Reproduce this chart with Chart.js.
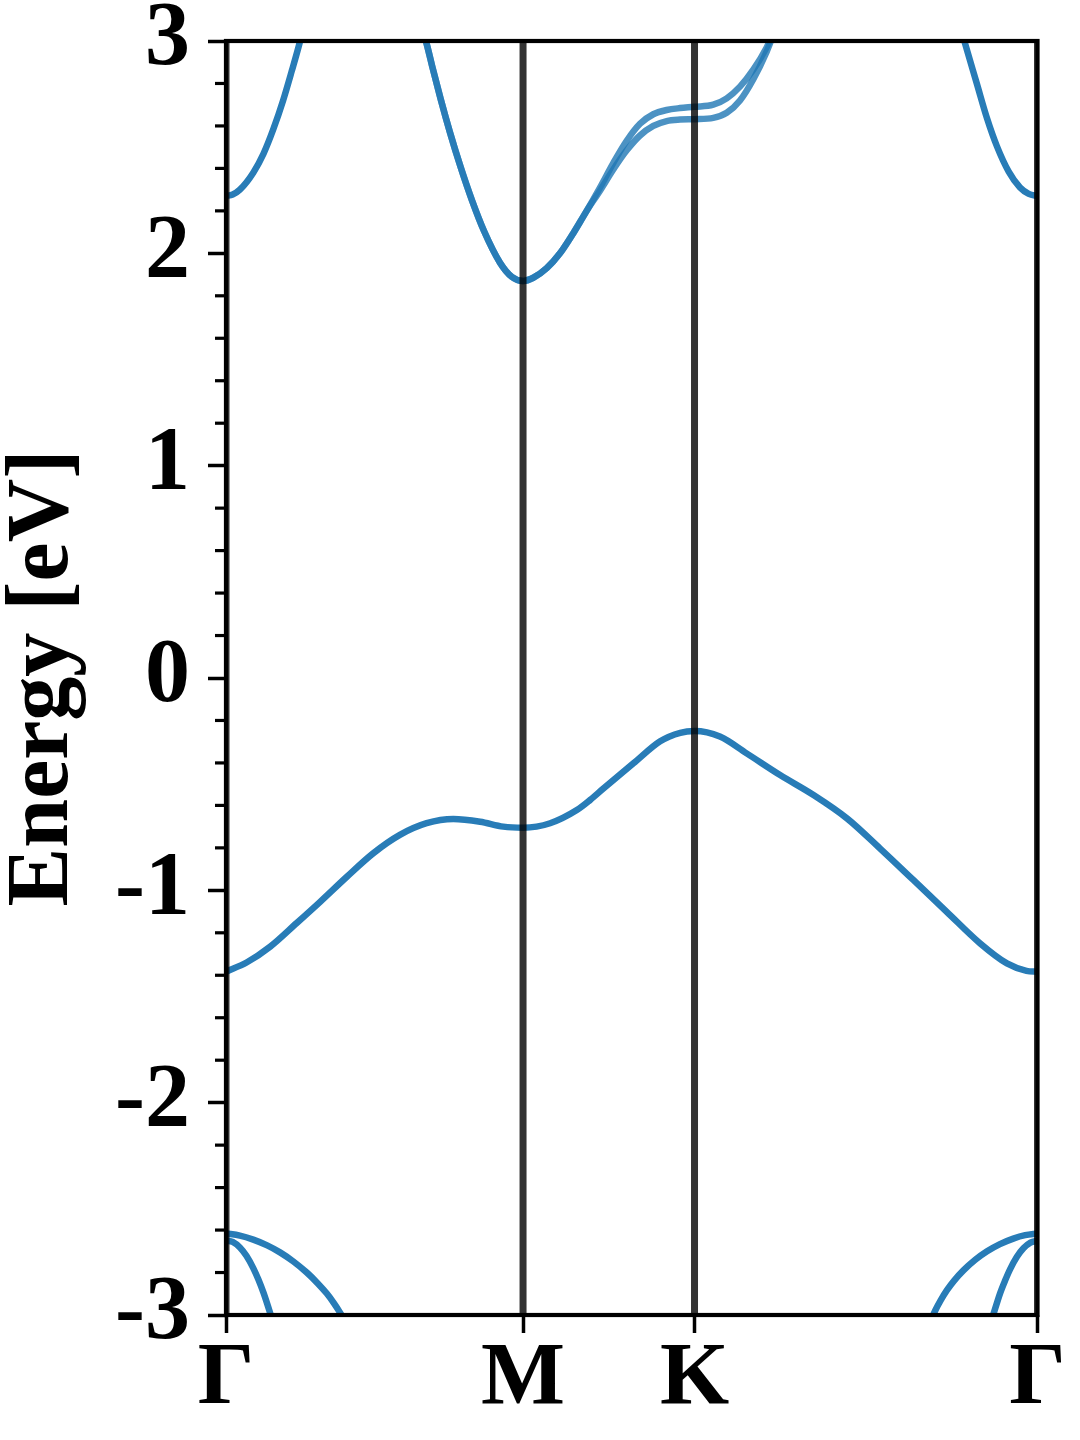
<!DOCTYPE html>
<html>
<head>
<meta charset="utf-8">
<title>Band structure</title>
<script src="https://cdn.jsdelivr.net/npm/chart.js@4.4.1/dist/chart.umd.min.js"></script>
<style>
  html, body { margin: 0; padding: 0; background: #fff; }
  #bands { display: block; }
</style>
</head>
<body>
<canvas id="bands" width="1080" height="1440"></canvas>
<script>
// ==============================
// Band structure along Γ-M-K-Γ
// ==============================

// high-symmetry points on the k path
const kTicks = [0, 0.5774, 0.9107, 1.5774];
const kLabels = ['Γ', 'M', 'K', 'Γ'];

// energy window [eV]
const eMin = -3;
const eMax = 3;

// conduction band leaving Γ (left edge)
const cbLeftK = [0, 0.013, 0.027, 0.053, 0.073, 0.092, 0.111, 0.128, 0.143, 0.149];
const cbLeftE = [2.27, 2.277, 2.30, 2.38, 2.47, 2.585, 2.72, 2.86, 2.99, 3.05];

// conduction band through M and K (two channels that split near K)
const cbMidK = [0.385, 0.3913, 0.401, 0.4173, 0.4354, 0.4562, 0.4776, 0.5015, 0.5326, 0.5553, 0.5774,
                0.5973, 0.6234, 0.6492, 0.6751, 0.7011, 0.727, 0.7528, 0.7789, 0.8047, 0.8306, 0.8566, 0.8825, 0.9107,
                0.9472, 0.9733, 0.9991, 1.025, 1.051, 1.064];
const cbUpperE = [3.03, 2.975, 2.879, 2.726, 2.569, 2.405, 2.253, 2.105, 1.956, 1.89, 1.87,
                  1.885, 1.93, 2.00, 2.095, 2.20, 2.31, 2.425, 2.53, 2.61, 2.655, 2.675, 2.684, 2.69,
                  2.70, 2.73, 2.785, 2.865, 2.97, 3.04];
const cbLowerE = [3.03, 2.975, 2.879, 2.726, 2.569, 2.405, 2.253, 2.105, 1.956, 1.89, 1.87,
                  1.885, 1.93, 2.00, 2.095, 2.20, 2.295, 2.395, 2.485, 2.555, 2.60, 2.623, 2.63, 2.632,
                  2.638, 2.662, 2.72, 2.82, 2.95, 3.03];

// conduction band coming back to Γ (right edge)
const cbRightK = [1.4294, 1.4364, 1.4594, 1.4794, 1.4984, 1.5214, 1.5434, 1.5604, 1.5774];
const cbRightE = [3.05, 2.99, 2.80, 2.635, 2.505, 2.385, 2.31, 2.28, 2.27];

// top valence band
const vbK = [0, 0.040, 0.086, 0.137, 0.183, 0.235, 0.286, 0.338, 0.390, 0.442, 0.494, 0.539, 0.5774,
             0.630, 0.682, 0.708, 0.733, 0.792, 0.844, 0.883, 0.9107,
             0.960, 1.012, 1.077, 1.142, 1.207, 1.271, 1.336, 1.401, 1.466, 1.518, 1.556, 1.5774];
const vbE = [-1.383, -1.34, -1.265, -1.155, -1.054, -0.936, -0.826, -0.739, -0.684, -0.664, -0.677, -0.700, -0.705,
             -0.684, -0.622, -0.574, -0.522, -0.402, -0.298, -0.258, -0.250,
             -0.276, -0.355, -0.457, -0.551, -0.661, -0.802, -0.951, -1.101, -1.250, -1.344, -1.379, -1.383];

// deeper bands around Γ
const lowLeftAK = [0, 0.027, 0.053, 0.080, 0.105, 0.131, 0.157, 0.178, 0.196, 0.210, 0.222, 0.229];
const lowLeftAE = [-2.616, -2.626, -2.645, -2.672, -2.705, -2.748, -2.80, -2.85, -2.899, -2.945, -2.99, -3.02];
const lowLeftBK = [0, 0.013, 0.027, 0.040, 0.053, 0.063, 0.073, 0.087, 0.092];
const lowLeftBE = [-2.648, -2.656, -2.682, -2.722, -2.779, -2.833, -2.896, -3.0, -3.04];
const lowRightAK = [1.3714, 1.3784, 1.3894, 1.4014, 1.4154, 1.4334, 1.4564, 1.4794, 1.5044, 1.5304, 1.5534, 1.5774];
const lowRightAE = [-3.02, -2.98, -2.93, -2.883, -2.838, -2.79, -2.74, -2.70, -2.666, -2.64, -2.624, -2.616];
const lowRightBK = [1.486, 1.4915, 1.5045, 1.5144, 1.524, 1.5374, 1.55, 1.5637, 1.5774];
const lowRightBE = [-3.04, -2.998, -2.899, -2.838, -2.785, -2.726, -2.686, -2.659, -2.651];

const serif = "'Liberation Serif', 'Times New Roman', serif";
const bandColor = '#287cb7';               // two overlapping spin channels
const splitColor = 'rgba(31,119,180,0.8)'; // single channel

function toPoints(ks, es) {
    return ks.map((k, i) => ({ x: k, y: es[i] }));
}

function band(ks, es, color) {
    return {
        data: toPoints(ks, es),
        borderColor: color,
        borderWidth: 6.5,
        borderJoinStyle: 'round',
        pointRadius: 0,
        showLine: true,
        cubicInterpolationMode: 'monotone',
        clip: 0,
        order: 1
    };
}

function kLine(k) {
    return {
        data: [{ x: k, y: eMin }, { x: k, y: eMax }],
        borderColor: 'rgba(0,0,0,0.8)',
        borderWidth: 7,
        pointRadius: 0,
        showLine: true,
        order: 0
    };
}

// minor ticks every 0.2 eV
const yMinor = [];
for (let i = -15; i <= 15; i++) {
    if (i % 5 !== 0) yMinor.push(i / 5);
}

// spines + minor ticks
const framePlugin = {
    id: 'frame',
    afterDatasetsDraw(chart) {
        const { ctx, chartArea: a, scales: { y } } = chart;
        ctx.save();
        ctx.strokeStyle = '#000';
        ctx.lineWidth = 3.2;
        yMinor.forEach(v => {
            const py = y.getPixelForValue(v);
            ctx.beginPath();
            ctx.moveTo(a.left - 11, py);
            ctx.lineTo(a.left, py);
            ctx.stroke();
        });
        ctx.lineWidth = 4.2;
        ctx.strokeRect(a.left, a.top, a.right - a.left, a.bottom - a.top);
        ctx.restore();
    }
};

const datasets = [
    ...kTicks.map(kLine),
    band(cbLeftK, cbLeftE, bandColor),
    band(cbMidK, cbUpperE, splitColor),
    band(cbMidK, cbLowerE, splitColor),
    band(cbRightK, cbRightE, bandColor),
    band(vbK, vbE, bandColor),
    band(lowLeftAK, lowLeftAE, bandColor),
    band(lowLeftBK, lowLeftBE, bandColor),
    band(lowRightAK, lowRightAE, bandColor),
    band(lowRightBK, lowRightBE, bandColor)
];

new Chart(document.getElementById('bands'), {
    type: 'scatter',
    data: { datasets },
    options: {
        responsive: false,
        animation: false,
        devicePixelRatio: 1,
        layout: { padding: { top: 41, right: 42.5, left: 0, bottom: 0 } },
        plugins: {
            legend: { display: false },
            tooltip: { enabled: false }
        },
        scales: {
            x: {
                type: 'linear',
                min: kTicks[0],
                max: kTicks[kTicks.length - 1],
                afterBuildTicks: scale => {
                    scale.ticks = kTicks.map(v => ({ value: v }));
                },
                afterFit: scale => {
                    scale.height = 125;
                    scale.paddingLeft = 0;
                    scale.paddingRight = 0;
                },
                ticks: {
                    autoSkip: false,
                    maxRotation: 0,
                    padding: 3,
                    color: '#000',
                    font: { family: serif, size: 89, weight: 'bold', lineHeight: 1 },
                    callback: (v, i) => kLabels[i]
                },
                grid: {
                    drawOnChartArea: false,
                    tickLength: 18,
                    tickWidth: 3.5,
                    tickColor: '#000'
                },
                border: { display: false }
            },
            y: {
                type: 'linear',
                min: eMin,
                max: eMax,
                afterFit: scale => {
                    scale.width = 226;
                    scale.paddingTop = 0;
                    scale.paddingBottom = 0;
                },
                ticks: {
                    stepSize: 1,
                    padding: 18,
                    color: '#000',
                    font: { family: serif, size: 90, weight: 'bold', lineHeight: 0.8 }
                },
                grid: {
                    drawOnChartArea: false,
                    tickLength: 18,
                    tickWidth: 3.5,
                    tickColor: '#000'
                },
                border: { display: false },
                title: {
                    display: true,
                    text: 'Energy [eV]',
                    color: '#000',
                    padding: { top: 5, bottom: 0 },
                    font: { family: serif, size: 88, weight: 'bold', lineHeight: 0.9 }
                }
            }
        }
    },
    plugins: [framePlugin]
});
</script>
</body>
</html>
